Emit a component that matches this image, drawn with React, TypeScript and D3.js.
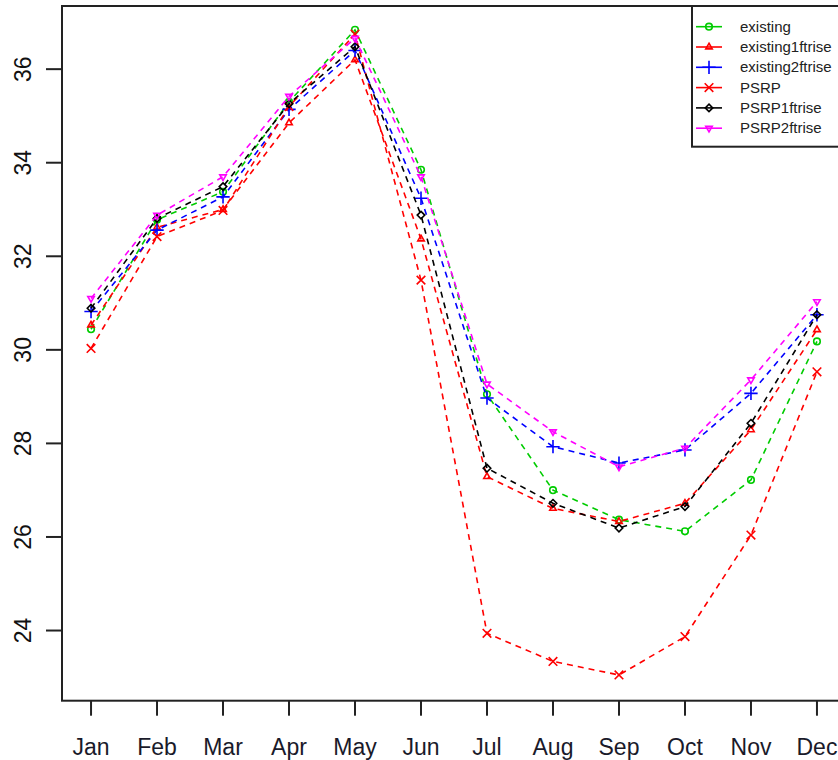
import { scaleLinear, line as d3Line, symbol, symbolCircle, symbolTriangle2, symbolPlus, symbolTimes, symbolDiamond2 } from "d3";

const months = ["Jan", "Feb", "Mar", "Apr", "May", "Jun", "Jul", "Aug", "Sep", "Oct", "Nov", "Dec"];
const yTicks = [24, 26, 28, 30, 32, 34, 36];

const existing = [30.44, 32.78, 33.38, 35.3, 36.84, 33.85, 29.05, 27.0, 26.37, 26.12, 27.22, 30.18];
const existing1ftrise = [30.53, 32.62, 33.0, 34.85, 36.2, 32.37, 27.29, 26.61, 26.33, 26.72, 28.29, 30.43];
const existing2ftrise = [30.82, 32.56, 33.27, 35.14, 36.4, 33.24, 28.97, 27.93, 27.58, 27.86, 29.07, 30.75];
const PSRP = [30.03, 32.42, 32.98, 35.2, 36.75, 31.49, 23.94, 23.34, 23.05, 23.87, 26.04, 29.53];
const PSRP1ftrise = [30.89, 32.81, 33.49, 35.26, 36.48, 32.88, 27.47, 26.72, 26.19, 26.65, 28.43, 30.75];
const PSRP2ftrise = [31.1, 32.88, 33.7, 35.42, 36.66, 33.7, 29.27, 28.25, 27.5, 27.9, 29.36, 31.03];

const seriesNames = ["existing", "existing1ftrise", "existing2ftrise", "PSRP", "PSRP1ftrise", "PSRP2ftrise"];
const seriesValues = [existing, existing1ftrise, existing2ftrise, PSRP, PSRP1ftrise, PSRP2ftrise];
const seriesColors = ["#00cc00", "#ff0000", "#0000ff", "#ff0000", "#000000", "#ff00ff"];

// R pch 1..6: circle, triangle, plus, times, diamond, inverted triangle
const shapes = [symbolCircle, symbolTriangle2, symbolPlus, symbolTimes, symbolDiamond2, symbolTriangle2];
const shapeSizes = [34, 30, 60, 50, 36, 30];

const W = 838;
const H = 760;
const left = 62;
const right = 846;
const top = 6;
const bottom = 700.7;
const font = "'Liberation Sans', Arial, sans-serif";

export default function App() {
  const x = scaleLinear().domain([0.56, 12.44]).range([left, right]);
  const y = scaleLinear().domain([22.5, 37.35]).range([bottom, top]);

  const lineGen = d3Line<number>()
    .x((_, i) => x(i + 1))
    .y((v) => y(v));

  const marker = (k: number, cx: number, cy: number, key: string) => {
    const d = symbol().type(shapes[k]).size(shapeSizes[k])() ?? "";
    const rot = k === 5 ? " rotate(180)" : "";
    return (
      <path
        key={key}
        d={d}
        transform={`translate(${cx},${cy})${rot}`}
        fill="none"
        stroke={seriesColors[k]}
        strokeWidth={1.6}
      />
    );
  };

  const legendY = (i: number) => 26.7 + i * 20.3;

  return (
    <svg
      width={W}
      height={H}
      style={{ position: "absolute", left: 0, top: 0, background: "#fff" }}
      fontFamily={font}
    >
      <defs>
        <clipPath id="plot-clip">
          <rect x={left} y={top} width={right - left} height={bottom - top} />
        </clipPath>
      </defs>

      {/* Series */}
      <g clipPath="url(#plot-clip)">
        {seriesValues.map((vals, k) => (
          <g key={seriesNames[k]}>
            <path
              d={lineGen(vals) ?? ""}
              fill="none"
              stroke={seriesColors[k]}
              strokeWidth={1.6}
              strokeDasharray="6,5"
            />
            {vals.map((v, i) => marker(k, x(i + 1), y(v), `${k}-${i}`))}
          </g>
        ))}
      </g>

      {/* Frame */}
      <rect
        x={left}
        y={top}
        width={right - left}
        height={bottom - top}
        fill="none"
        stroke="#222"
        strokeWidth={2}
      />

      {/* X axis */}
      {months.map((m, i) => (
        <g key={m}>
          <line x1={x(i + 1)} x2={x(i + 1)} y1={bottom} y2={bottom + 15} stroke="#222" strokeWidth={2} />
          <text x={x(i + 1)} y={755} textAnchor="middle" fontSize={23} fill="#1a1a2a">
            {m}
          </text>
        </g>
      ))}

      {/* Y axis */}
      {yTicks.map((t) => (
        <g key={t}>
          <line x1={left - 16} x2={left} y1={y(t)} y2={y(t)} stroke="#222" strokeWidth={2} />
          <text
            transform={`translate(31,${y(t)}) rotate(-90)`}
            textAnchor="middle"
            fontSize={23}
            fill="#111"
          >
            {t}
          </text>
        </g>
      ))}

      {/* Legend */}
      <g>
        <rect x={692} y={top} width={170} height={140.7} fill="#fff" stroke="#222" strokeWidth={2} />
        {seriesNames.map((name, k) => (
          <g key={name}>
            <line x1={696} x2={722} y1={legendY(k)} y2={legendY(k)} stroke={seriesColors[k]} strokeWidth={1.6} />
            {marker(k, 709, legendY(k), `lg-${k}`)}
            <text x={740} y={legendY(k) + 5} fontSize={15} fill="#222">
              {name}
            </text>
          </g>
        ))}
      </g>
    </svg>
  );
}
